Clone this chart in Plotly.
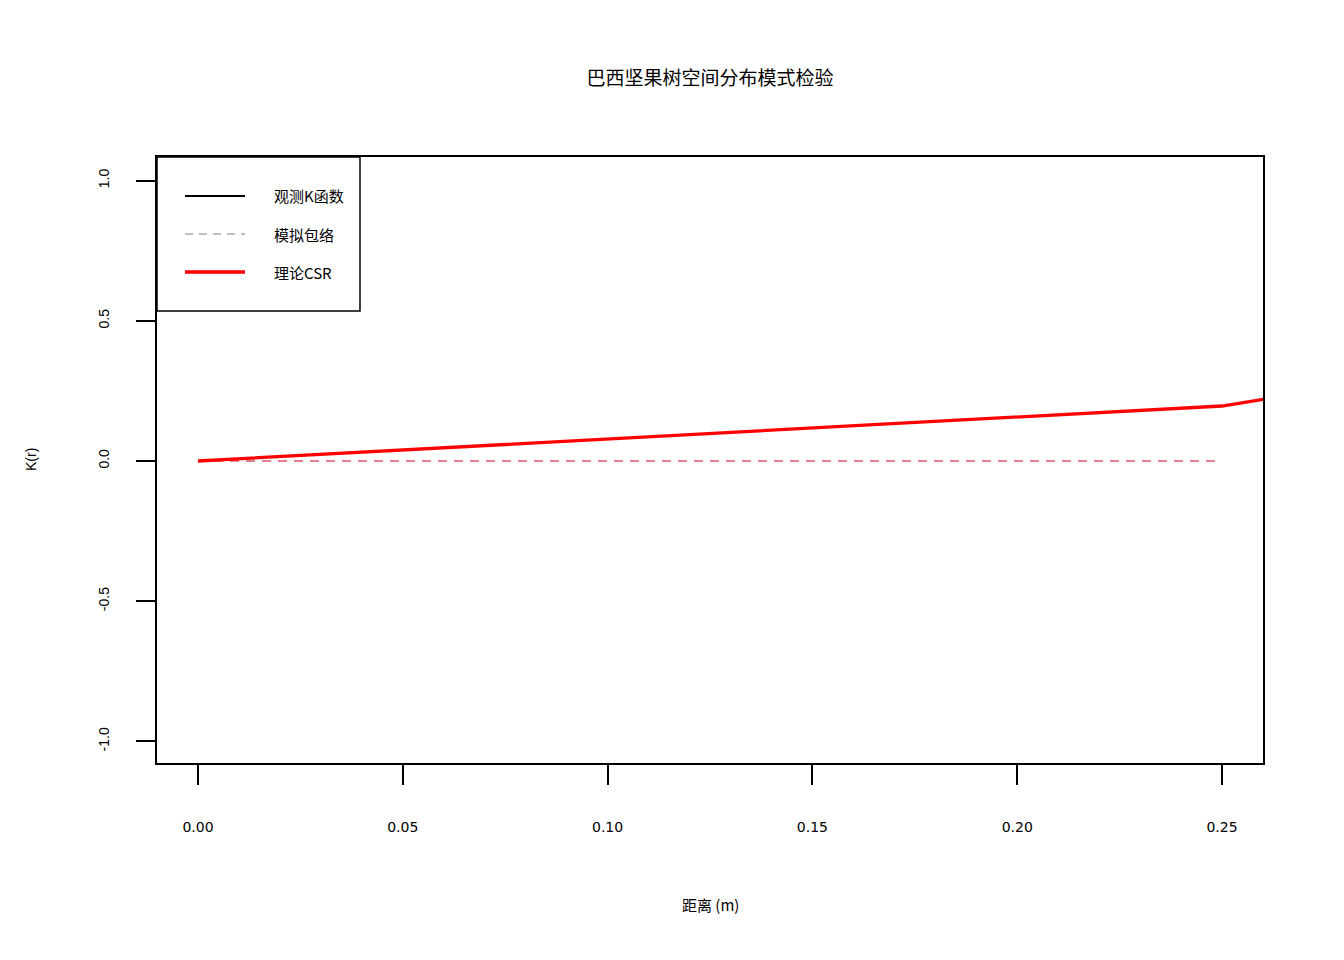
import plotly.graph_objects as go

# theoretical CSR: K(r) = pi r^2, sampled coarsely
r_csr = [0.0, 0.25, 0.5]
k_csr = [0.0, 0.196, 0.785]

# simulated envelope (drawn flat at zero)
r_env = [0.0, 0.25]
k_env = [0.0, 0.0]

x_ticks = [0.00, 0.05, 0.10, 0.15, 0.20, 0.25]
x_labels = ["0.00", "0.05", "0.10", "0.15", "0.20", "0.25"]
y_ticks = [-1.0, -0.5, 0.0, 0.5, 1.0]
y_labels = ["-1.0", "-0.5", "0.0", "0.5", "1.0"]

legend_names = ["观测K函数", "模拟包络", "理论CSR"]

W, H = 1344, 960
OFF = 8  # page body margin
L, R, T, B = 157, 1263, 157, 763  # plot box in screen px
CJK = "Noto Sans CJK SC"


def px(xp):
    return (xp - L) / (R - L)


def py(yp):
    return (B - yp) / (B - T)


fig = go.Figure()
fig.add_trace(go.Scatter(x=r_env, y=k_env, mode="lines", showlegend=False,
                         line=dict(color="#DF536B", width=1.3, dash="9px,7px")))
fig.add_trace(go.Scatter(x=r_csr, y=k_csr, mode="lines", showlegend=False,
                         line=dict(color="#FF0000", width=3.3)))

# legend box drawn by hand, R style
shapes = [dict(type="rect", xref="paper", yref="paper",
               x0=px(157), x1=px(360), y0=py(311), y1=py(157),
               line=dict(color="black", width=1.5), fillcolor="rgba(0,0,0,0)")]
leg_styles = [dict(color="black", width=1.8),
              dict(color="#BEBEBE", width=1.8, dash="8px,6px"),
              dict(color="#FF0000", width=3.5)]
leg_y = [196, 234, 272]
annotations = []
for name, st, yy in zip(legend_names, leg_styles, leg_y):
    shapes.append(dict(type="line", xref="paper", yref="paper",
                       x0=px(185), x1=px(245), y0=py(yy), y1=py(yy), line=st))
    annotations.append(dict(text=name, xref="paper", yref="paper",
                            x=px(272), y=py(yy), xanchor="left", yanchor="middle",
                            showarrow=False, font=dict(family=CJK, size=15, color="black")))

annotations.append(dict(text="距离 (m)", xref="paper", yref="paper",
                        x=0.5, y=py(904), xanchor="center", yanchor="middle",
                        showarrow=False, font=dict(family=CJK, size=15, color="black")))
annotations.append(dict(text="K(r)", xref="paper", yref="paper",
                        x=px(31), y=0.5, xanchor="center", yanchor="middle", textangle=-90,
                        showarrow=False, font=dict(family="Liberation Sans", size=14, color="black")))

fig.update_layout(
    width=W, height=H,
    margin=dict(l=L - OFF, r=W - R + OFF, t=T - OFF, b=H - B + OFF),
    paper_bgcolor="white", plot_bgcolor="white",
    title=dict(text="巴西坚果树空间分布模式检验", x=(0.5 * (L + R) - OFF) / W, xanchor="center",
               y=1 - (78 - OFF) / H, yanchor="middle", yref="container",
               font=dict(family=CJK, size=19, color="black")),
    shapes=shapes, annotations=annotations,
    showlegend=False,
)
fig.update_xaxes(range=[-0.01, 0.26], tickvals=x_ticks, ticktext=x_labels,
                 showgrid=False, zeroline=False, showline=True, mirror=True,
                 linecolor="black", linewidth=1.5, ticks="outside", ticklen=20,
                 tickwidth=1.5, tickcolor="black", ticklabelstandoff=30,
                 tickfont=dict(family="DejaVu Sans", size=14, color="black"))
fig.update_yaxes(range=[-1.077, 1.084], tickvals=y_ticks, ticktext=y_labels,
                 showgrid=False, zeroline=False, showline=True, mirror=True,
                 linecolor="black", linewidth=1.5, ticks="outside", ticklen=19,
                 tickwidth=1.5, tickcolor="black", tickangle=-90, ticklabelstandoff=22,
                 tickfont=dict(family="Liberation Sans", size=14, color="black"))

fig.write_html("out.html")
